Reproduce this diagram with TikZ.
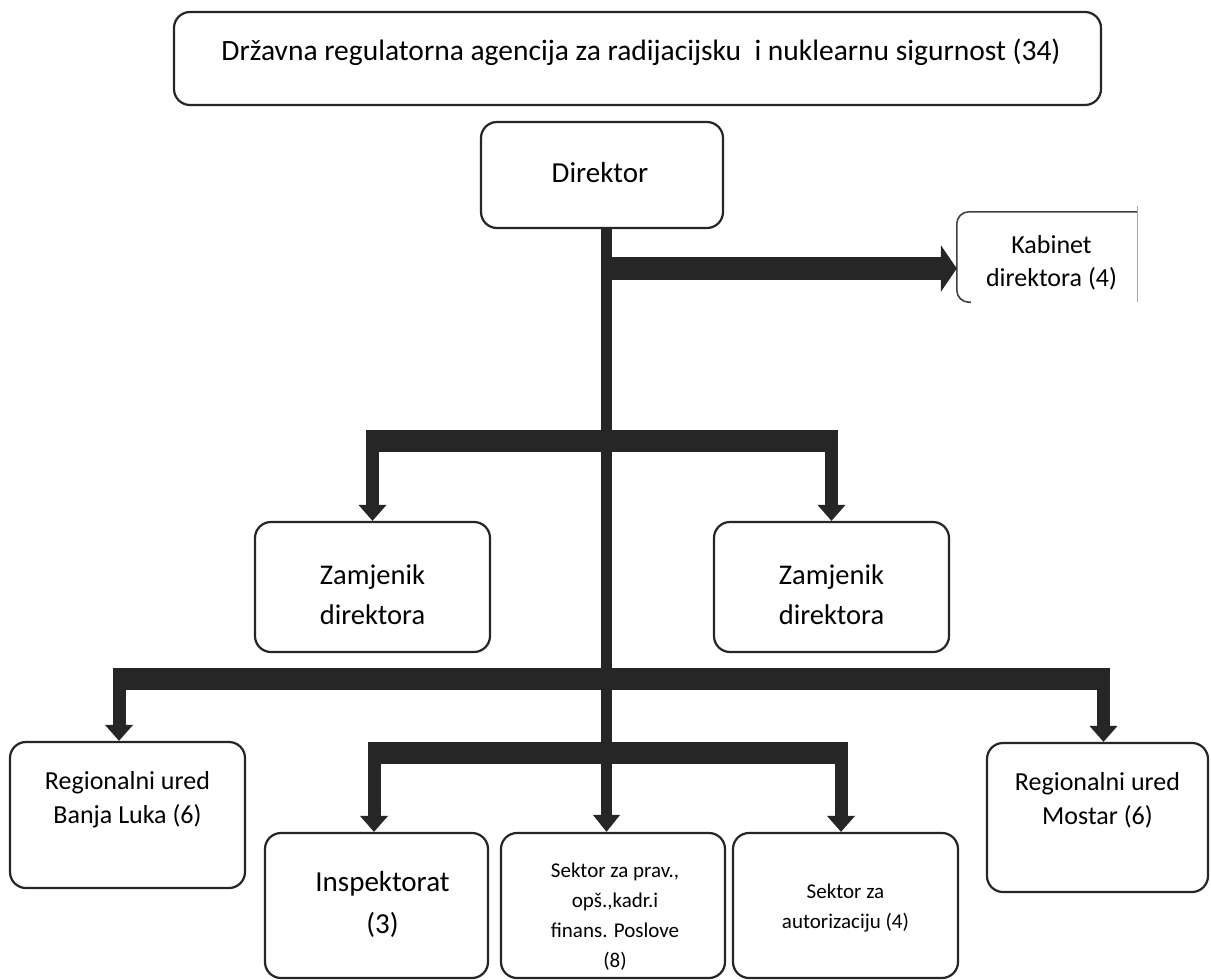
\documentclass[tikz,border=0pt]{standalone}
\usepackage{fontspec}
\setmainfont{Carlito}
\usetikzlibrary{arrows.meta}
\tikzset{
  box/.style={draw=black!85, line width=2.2pt, rounded corners=16pt, inner sep=0pt},
  txt/.style={align=center, inner sep=0pt},
  hbar/.style={line width=22pt, draw=black!85},
  leg/.style={line width=13pt, draw=black!85, -{Triangle[width=27pt,length=16pt]}},
  spineln/.style={line width=11pt, draw=black!85, -{Triangle[width=26pt,length=17pt]}},
  kabarrow/.style={line width=23pt, draw=black!85, -{Triangle[width=46pt,length=16pt]}},
}
\newcommand{\fsz}[2]{\fontsize{#1}{#2}\selectfont}
\begin{document}
\begin{tikzpicture}[x=1pt,y=-1pt]
\useasboundingbox (0,0) rectangle (1211,980);
\fill[white] (0,0) rectangle (1211,980);

% boxes
\node[box, minimum width=927pt, minimum height=93pt,
  label={[txt,font=\fsz{29.5}{36},yshift=6pt,xshift=3.5pt]center:{Državna regulatorna agencija za radijacijsku~ i nuklearnu sigurnost (34)}}]
  (top) at (637.5,58.5) {};
\node[box, minimum width=242pt, minimum height=106pt,
  label={[txt,font=\fsz{29}{35},yshift=2pt,xshift=-2pt]center:{Direktor}}]
  (dir) at (602,175) {};
\node[inner sep=0pt, minimum width=180pt, minimum height=90pt,
  label={[txt,font=\fsz{26}{33},yshift=-6pt,xshift=4.5pt]center:{Kabinet\\direktora (4)}}]
  (kab) at (1047,257) {};
\draw[black!75, line width=1.6pt, rounded corners=12pt]
  ([xshift=14pt]kab.south west) -- (kab.south west) |- (kab.north east);
\draw[black!35, line width=0.7pt] ([yshift=6pt]kab.north east) -- (kab.south east);

\node[box, minimum width=235pt, minimum height=130pt,
  label={[txt,font=\fsz{28.5}{40},yshift=-8pt]center:{Zamjenik\\direktora}}]
  (z1) at (372.5,587) {};
\node[box, minimum width=235pt, minimum height=130pt,
  label={[txt,font=\fsz{28.5}{40},yshift=-8pt]center:{Zamjenik\\direktora}}]
  (z2) at (831.5,587) {};

\node[box, minimum width=235pt, minimum height=146pt,
  label={[txt,font=\fsz{26}{34},yshift=15pt]center:{Regionalni ured\\Banja Luka (6)}}]
  (bl) at (127.5,815) {};
\node[box, minimum width=221pt, minimum height=149pt,
  label={[txt,font=\fsz{26}{34},yshift=17pt]center:{Regionalni ured\\Mostar (6)}}]
  (most) at (1097.5,817.5) {};

\node[box, minimum width=223pt, minimum height=145pt,
  label={[txt,font=\fsz{29}{42},yshift=1.5pt,xshift=6pt]center:{Inspektorat\\(3)}}]
  (insp) at (376.5,905.5) {};
\node[box, minimum width=224pt, minimum height=145pt,
  label={[txt,font=\fsz{21}{30},yshift=-11pt,xshift=2pt]center:{Sektor za prav.,\\opš.,kadr.i\\finans. Poslove\\(8)}}]
  (sp) at (613,905.5) {};
\node[box, minimum width=225pt, minimum height=145pt,
  label={[txt,font=\fsz{21}{30},yshift=-2.5pt]center:{Sektor za\\autorizaciju (4)}}]
  (sa) at (845.5,905.5) {};

% junction coordinates
\coordinate (spine) at (606.5,0);
\coordinate (kj) at (606.5,268.5);
\coordinate (b1) at (0,441);
\coordinate (l2) at (119,679);
\coordinate (r2) at (1103.5,679);
\coordinate (l3) at (374,752.5);
\coordinate (r3) at (841,752.5);

% connectors
\draw[kabarrow] (kj) -- (kj -| kab.west);

\draw[hbar] ([xshift=-6.5pt]z1.north |- b1) -- ([xshift=6.5pt]z2.north |- b1);
\draw[leg] (z1.north |- b1) -- (z1.north);
\draw[leg] (z2.north |- b1) -- (z2.north);

\draw[hbar] ([xshift=-6.5pt]l2) -- ([xshift=6.5pt]r2);
\draw[leg] (l2) -- (l2 |- bl.north);
\draw[leg] (r2) -- (r2 |- most.north);

\draw[hbar] ([xshift=-6.5pt]l3) -- ([xshift=6.5pt]r3);
\draw[leg] (l3) -- (l3 |- insp.north);
\draw[leg] (r3) -- (r3 |- sa.north);

\draw[spineln] (dir.south -| spine) -- (sp.north -| spine);
\end{tikzpicture}
\end{document}
